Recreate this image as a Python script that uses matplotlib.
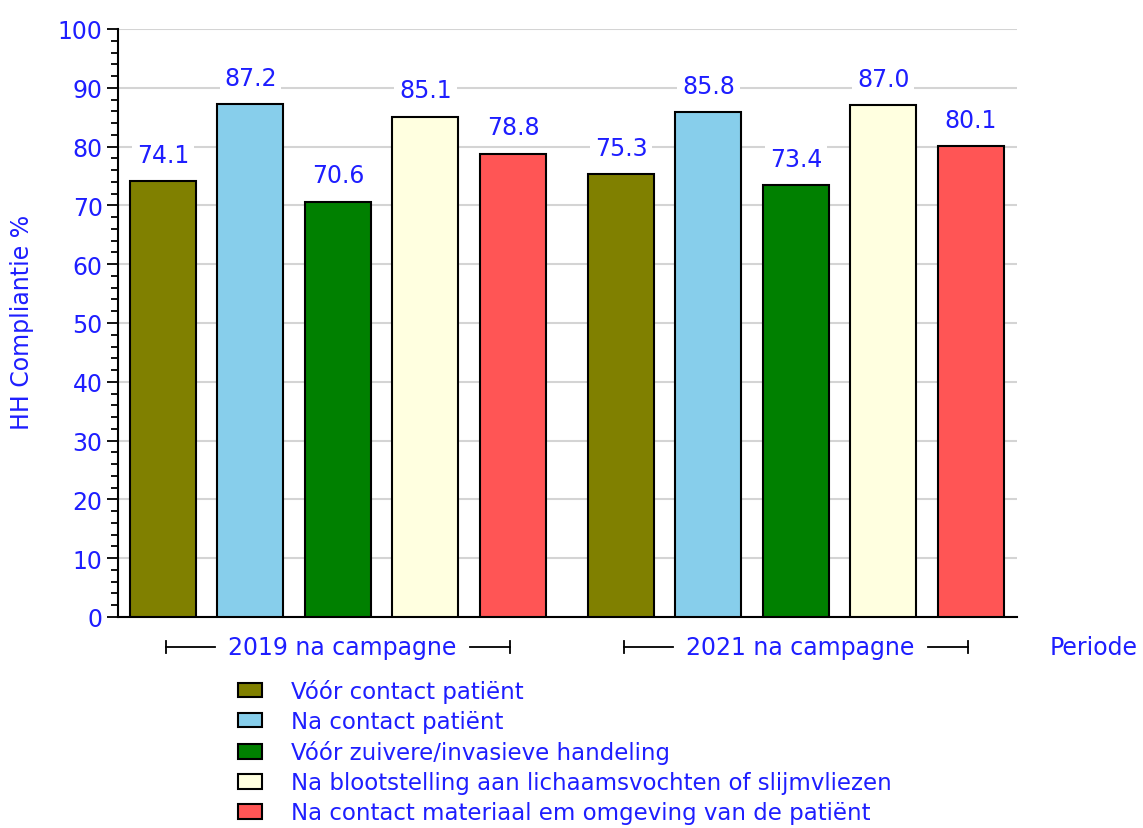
import matplotlib
matplotlib.use("Agg")
import matplotlib.pyplot as plt
from matplotlib.patches import Patch
from matplotlib.ticker import MultipleLocator
import matplotlib.transforms as mtransforms

groups = ["2019 na campagne", "2021 na campagne"]
categories = [
    "Vóór contact patiënt",
    "Na contact patiënt",
    "Vóór zuivere/invasieve handeling",
    "Na blootstelling aan lichaamsvochten of slijmvliezen",
    "Na contact materiaal em omgeving van de patiënt",
]
values_2019 = [74.1, 87.2, 70.6, 85.1, 78.8]
values_2021 = [75.3, 85.8, 73.4, 87.0, 80.1]
series = [values_2019, values_2021]
colors = ["#808000", "#87CEEB", "#008000", "#FFFFE0", "#FF5555"]

BLUE = "#1e1eff"
FS = 17

fig = plt.figure(figsize=(11.43, 8.29), dpi=100)
ax = fig.add_axes([118/1143, 1-618/829, (1017-118)/1143, (618-30)/829])

group_gap = 5.234
width = 0.754
for g, vals in enumerate(series):
    center = g * group_gap
    xs = [center + (j - 2) for j in range(len(vals))]
    bars = ax.bar(xs, vals, width=width, color=colors, edgecolor="black", linewidth=1.5, zorder=3)
    for x, v in zip(xs, vals):
        ax.annotate(f"{v:.1f}", (x, v), xytext=(0, 19), textcoords="offset points",
                    ha="center", va="center", color=BLUE, fontsize=FS, zorder=4,
                    bbox=dict(boxstyle="square,pad=0.2", facecolor="white", edgecolor="none"))
    # group label with bracket
    trans = mtransforms.blended_transform_factory(ax.transData, ax.transAxes)
    half = 1.97
    yb = -0.051
    ax.plot([center - half, center - 1.40], [yb, yb], color="black", lw=1.3, transform=trans, clip_on=False)
    ax.plot([center + 1.51, center + half], [yb, yb], color="black", lw=1.3, transform=trans, clip_on=False)
    for xe in (center - half, center + half):
        ax.plot([xe, xe], [yb - 0.011, yb + 0.011], color="black", lw=1.3, transform=trans, clip_on=False)
    ax.text(center + 0.05, yb, groups[g], transform=trans, ha="center", va="center", color=BLUE, fontsize=FS)

ax.set_xlim(-2.514, 7.76)
ax.set_ylim(0, 100)
ax.yaxis.set_major_locator(MultipleLocator(10))
ax.yaxis.set_minor_locator(MultipleLocator(2))
ax.tick_params(axis="y", which="major", length=8, width=1.3, colors="black", labelcolor=BLUE, labelsize=FS, pad=3)
ax.tick_params(axis="y", which="minor", length=5, width=1.3, colors="black")
ax.set_xticks([])
for s in ("top", "right"):
    ax.spines[s].set_visible(False)
ax.spines["left"].set_linewidth(1.5)
ax.spines["bottom"].set_linewidth(1.5)
ax.grid(axis="y", which="major", color="#d4d4d4", lw=1.5, zorder=0)
ax.set_axisbelow(True)

fig.text(22/1143, 1-322/829, "HH Compliantie %", rotation=90, ha="center", va="center", color=BLUE, fontsize=FS)
fig.text(1050/1143, 1-648/829, "Periode", ha="left", va="center", color=BLUE, fontsize=FS)

handles = [Patch(facecolor=c, edgecolor="black", linewidth=1.5) for c in colors]
leg = fig.legend(handles, categories, loc="upper left", bbox_to_anchor=(238/1143, 1-680/829),
                 frameon=False, fontsize=16.5, labelcolor=BLUE, handlelength=1.03, handleheight=0.62,
                 handletextpad=1.3, labelspacing=0.31, borderaxespad=0, borderpad=0)

fig.savefig("out.png", dpi=100)
